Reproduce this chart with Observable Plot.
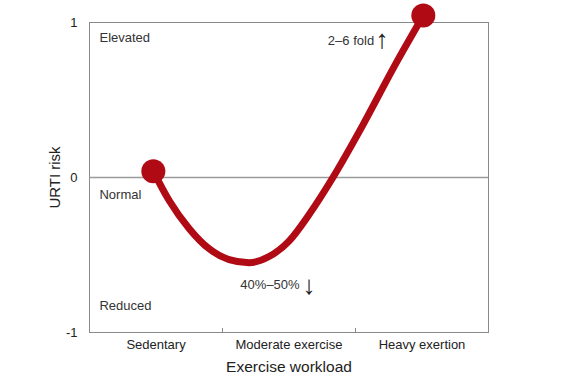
<!DOCTYPE html>
<html>
<head>
<meta charset="utf-8">
<script src="https://cdn.jsdelivr.net/npm/d3@7"></script>
<script src="https://cdn.jsdelivr.net/npm/@observablehq/plot@0.6"></script>
<style>
  html, body { margin: 0; padding: 0; background: #fff; }
</style>
</head>
<body>
<div id="chart"></div>
<script>
// Categories on the x axis (each occupies one unit: 0–1, 1–2, 2–3)
const categories = ["Sedentary", "Moderate exercise", "Heavy exertion"];
const categoryCenters = [0.5, 1.5, 2.5];
const categoryBounds = [1, 2];

// J-curve (x in workload units, y in URTI risk)
const curveX = [0.48, 0.60, 0.75, 0.90, 1.05, 1.20, 1.35, 1.50, 1.65, 1.83, 2.05, 2.30, 2.51];
const curveY = [0.04, -0.15, -0.33, -0.46, -0.53, -0.55, -0.51, -0.41, -0.24, 0.0, 0.33, 0.73, 1.045];

// Y tick values
const yTicks = [-1, 0, 1];

// Zone labels
const zoneLabels = ["Elevated", "Normal", "Reduced"];
const zoneX = [0.075, 0.075, 0.075];
const zoneY = [0.90, -0.11, -0.83];

// Change annotations
const noteText = ["2–6 fold", "40%–50%"];
const noteX = [2.14, 1.58];
const noteY = [0.88, -0.69];
const arrowText = ["\u2191\uFE0E", "\u2193\uFE0E"];
const arrowX = [2.2, 1.65];
const arrowY = [0.89, -0.70];

const curve = curveX.map((x, i) => ({x, y: curveY[i]}));
const ends = [curve[0], curve[curve.length - 1]];
const zones = zoneLabels.map((t, i) => ({t, x: zoneX[i], y: zoneY[i]}));
const notes = noteText.map((t, i) => ({t, x: noteX[i], y: noteY[i]}));
const arrows = arrowText.map((t, i) => ({t, x: arrowX[i], y: arrowY[i]}));

const red = "#b00a15";

const chart = Plot.plot({
  width: 581,
  height: 378,
  marginLeft: 89,
  marginRight: 93,
  marginTop: 22,
  marginBottom: 46,
  style: {fontFamily: "'Liberation Sans', Arial, sans-serif", fontSize: "13px", color: "#333", background: "#fff"},
  x: {domain: [0, 3]},
  y: {domain: [-1, 1]},
  marks: [
    Plot.frame({stroke: "#8a8a8a", strokeWidth: 1}),
    Plot.ruleY([0], {stroke: "#9a9a9a", strokeWidth: 1.5}),
    Plot.axisY({ticks: yTicks, tickSize: 0, tickPadding: 12, tickFormat: d => String(d), label: null, fontSize: 13, fill: "#222"}),
    Plot.axisY({ticks: [], label: "URTI risk", labelAnchor: "center", labelOffset: 40, labelArrow: "none", fontSize: 15, fill: "#222"}),
    Plot.axisX({ticks: categoryCenters, tickSize: 0, tickPadding: 7, tickFormat: (d, i) => categories[i], label: null, fontSize: 13, fill: "#222"}),
    Plot.axisX({ticks: categoryBounds, tickSize: 4, dy: -4, tickFormat: () => "", label: null, stroke: "#8a8a8a"}),
    Plot.axisX({ticks: [], label: "Exercise workload", labelAnchor: "center", labelOffset: 39, labelArrow: "none", fontSize: 15.5, fill: "#222"}),
    Plot.text(zones, {x: "x", y: "y", text: "t", textAnchor: "start", fontSize: 13, fill: "#333"}),
    Plot.text(notes, {x: "x", y: "y", text: "t", textAnchor: "end", fontSize: 13, fill: "#333"}),
    Plot.text(arrows, {x: "x", y: "y", text: "t", fontSize: 26, fontFamily: "'Liberation Sans', sans-serif", fill: "#222"}),
    Plot.line(curve, {x: "x", y: "y", curve: "monotone-x", stroke: red, strokeWidth: 7, strokeLinecap: "round"}),
    Plot.dot(ends, {x: "x", y: "y", r: 12, fill: red, stroke: "none"})
  ]
});
document.getElementById("chart").appendChild(chart);
</script>
</body>
</html>
